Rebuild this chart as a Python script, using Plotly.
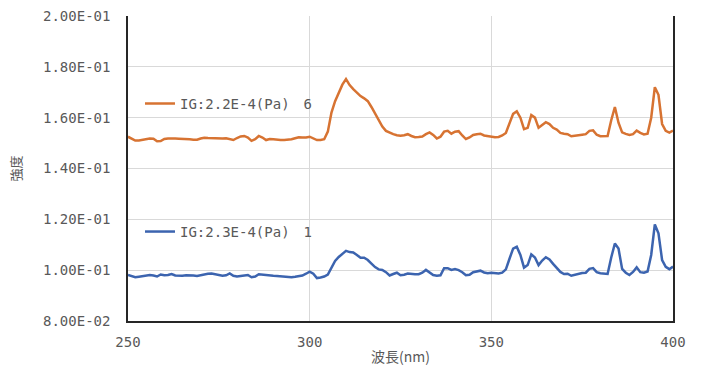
import plotly.graph_objects as go

wavelength = list(range(250, 401))

series_a_name = "IG:2.2E-4(Pa)\u30006"
series_a = [
    .1525, .1517, .1510, .1510, .1512, .1515, .1518, .1517, .1507, .1508,
    .1516, .1518, .1519, .1518, .1517, .1517, .1516, .1515, .1513, .1513,
    .1518, .1521, .1520, .1519, .1518, .1517, .1518, .1519, .1515, .1512,
    .1520, .1526, .1528, .1522, .1509, .1515, .1528, .1522, .1512, .1516,
    .1515, .1512, .1512, .1512, .1513, .1515, .1519, .1523, .1522, .1522,
    .1525, .1518, .1512, .1512, .1515, .1545, .1620, .1665, .1695, .1730,
    .1752, .1728, .1712, .1698, .1685, .1676, .1665, .1642, .1617, .1590,
    .1565, .1548, .1540, .1535, .1531, .1529, .1531, .1535, .1528, .1523,
    .1524, .1526, .1535, .1542, .1532, .1518, .1525, .1545, .1548, .1537,
    .1545, .1547, .1530, .1516, .1522, .1532, .1535, .1537, .1530, .1527,
    .1525, .1523, .1524, .1530, .1540, .1578, .1615, .1625, .1600, .1555,
    .1560, .1610, .1600, .1560, .1572, .1582, .1575, .1560, .1553, .1540,
    .1537, .1535, .1527, .1530, .1532, .1533, .1535, .1548, .1550, .1533,
    .1527, .1527, .1528, .1590, .1642, .1580, .1542, .1536, .1532, .1535,
    .1549, .1540, .1534, .1537, .1600, .1720, .1690, .1575, .1548, .1541,
    .1549,
]

series_b_name = "IG:2.3E-4(Pa)\u30001"
series_b = [
    .0981, .0976, .0972, .0974, .0977, .0978, .0981, .0979, .0975, .0983,
    .0980, .0981, .0985, .0979, .0978, .0978, .0980, .0981, .0979, .0977,
    .0981, .0984, .0986, .0987, .0983, .0980, .0978, .0980, .0987, .0978,
    .0975, .0977, .0979, .0981, .0972, .0975, .0984, .0982, .0980, .0979,
    .0978, .0977, .0976, .0975, .0973, .0972, .0974, .0976, .0979, .0986,
    .0994, .0986, .0969, .0971, .0975, .0983, .1012, .1036, .1052, .1066,
    .1076, .1071, .1070, .1060, .1049, .1049, .1040, .1026, .1012, .1003,
    .1001, .0992, .0979, .0985, .0990, .0980, .0982, .0987, .0985, .0984,
    .0984, .0990, .1001, .0992, .0981, .0978, .0980, .1008, .1008, .1001,
    .1004, .1000, .0992, .0980, .0982, .0992, .0996, .0998, .0991, .0988,
    .0990, .0988, .0987, .0990, .1003, .1045, .1085, .1092, .1060, .1010,
    .1020, .1062, .1050, .1020, .1038, .1051, .1042, .1025, .1008, .0993,
    .0985, .0986, .0978, .0982, .0987, .0989, .0990, .1005, .1008, .0992,
    .0988, .0987, .0985, .1050, .1105, .1085, .1005, .0990, .0981, .0993,
    .1011, .0992, .0990, .0995, .1060, .1180, .1145, .1040, .1013, .1004,
    .1014,
]

y_ticks = [0.08, 0.10, 0.12, 0.14, 0.16, 0.18, 0.20]
y_tick_labels = ["8.00E-02", "1.00E-01", "1.20E-01", "1.40E-01", "1.60E-01", "1.80E-01", "2.00E-01"]
x_ticks = [250, 300, 350, 400]
x_title = "波長(nm)"
y_title = "強度"

FONT = "DejaVu Sans Mono, Noto Sans CJK JP"
CJK = "Noto Sans CJK JP"
TXT = "#595959"

fig = go.Figure()
fig.add_trace(go.Scatter(x=wavelength, y=series_a, mode="lines", name=series_a_name,
                         line=dict(color="#D77332", width=2.5), legend="legend", showlegend=True))
fig.add_trace(go.Scatter(x=wavelength, y=series_b, mode="lines", name=series_b_name,
                         line=dict(color="#3C64AF", width=2.5), legend="legend2", showlegend=True))

legend_common = dict(bgcolor="rgba(0,0,0,0)", font=dict(family=FONT, size=14, color=TXT),
                     xanchor="left", yanchor="middle", itemwidth=30, tracegroupgap=0,
                     visible=True)

fig.update_layout(
    width=704, height=367,
    margin=dict(l=128, r=31, t=16, b=46, autoexpand=False),
    paper_bgcolor="white", plot_bgcolor="white",
    showlegend=True,
    font=dict(family=FONT, size=13, color=TXT),
    legend=dict(x=0.022, y=0.712, **legend_common),
    legend2=dict(x=0.022, y=0.292, **legend_common),
    xaxis=dict(range=[250, 400], tickvals=x_ticks, showgrid=True, gridcolor="#D9D9D9",
               gridwidth=1, showline=True, linecolor="#262626", linewidth=1.5,
               ticks="", zeroline=False, ticklabelstandoff=7, automargin=False,
               title=dict(text=x_title, font=dict(family=CJK, size=14, color=TXT), standoff=4),
               tickfont=dict(family=FONT, size=14, color=TXT)),
    yaxis=dict(range=[0.08, 0.20], tickvals=y_ticks, ticktext=y_tick_labels,
               showgrid=True, gridcolor="#D9D9D9", gridwidth=1, showline=True, mirror=True,
               linecolor="#262626", linewidth=1.5, ticks="", zeroline=False,
               ticklabelstandoff=13, automargin=False,
               title=dict(text=y_title, font=dict(family=CJK, size=13, color=TXT), standoff=18),
               tickfont=dict(family=FONT, size=14, color=TXT)),
)

fig.write_html("out.html")
